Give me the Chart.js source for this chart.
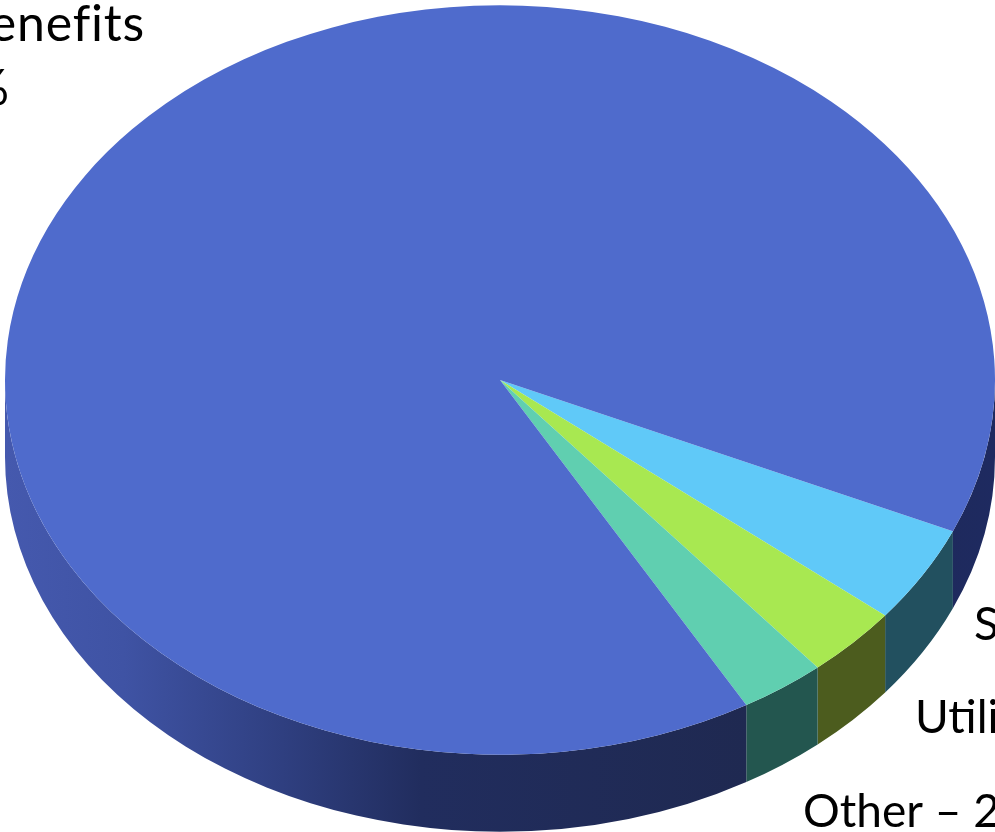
<!DOCTYPE html>
<html>
<head>
<meta charset="utf-8">
<style>
html,body{margin:0;padding:0;background:#fff;overflow:hidden;width:995px;height:832px}
canvas{display:block}
</style>
<script src="https://cdn.jsdelivr.net/npm/chart.js@4"></script>
</head>
<body>
<canvas id="c" width="995" height="832"></canvas>
<script>
const categories = ["Supplies", "Utilities", "Other", "Benefits"];
const values = [4.2, 3.1, 2.8, 89.9];
const labelTexts = ["Benefits", "90%", "Supplies \u2013 4%", "Utilities \u2013 3%", "Other \u2013 2%"];

const topColors = ["#60c9f8", "#a8e851", "#60cfb0", "#4f6bcc"];
const wallColors = ["#22505f", "#4c5c1e", "#23564f", null];
const mainWallStops = [[0,"#4559ae"],[0.12,"#3f53a4"],[0.28,"#2f3f80"],[0.42,"#212d5e"],[0.75,"#1f2951"],[1,"#1e2a60"]];
const labelLayout = [
  {x:145, y:41, align:"right", size:50, spacing:"0.8px"},
  {x:9, y:105, align:"right", size:50, spacing:"0px"},
  {x:974, y:640, align:"left", size:46, spacing:"0px"},
  {x:915, y:733, align:"left", size:46, spacing:"0px"},
  {x:803, y:827, align:"left", size:46, spacing:"0px"}
];
const CX = 500, CY = 380, SQUASH = 0.757, DEPTH = 77;

const tilt = {
  id: "tilt",
  beforeDatasetsDraw(chart) {
    const ctx = chart.ctx;
    const arcs = chart.getDatasetMeta(0).data;
    const a0 = arcs[0];
    ctx.save();
    ctx.translate(CX, CY);
    ctx.scale(1, SQUASH);
    ctx.translate(-a0.x, -a0.y);
    const d = DEPTH / SQUASH;
    arcs.forEach((el, i) => {
      const s = el.startAngle, e = el.endAngle;
      [[0, Math.PI], [2 * Math.PI, 3 * Math.PI]].forEach(([lo, hi]) => {
        const from = Math.max(s, lo), to = Math.min(e, hi);
        if (to <= from) return;
        let fill = wallColors[i];
        if (!fill) {
          fill = ctx.createLinearGradient(el.x - el.outerRadius, 0, el.x + el.outerRadius, 0);
          mainWallStops.forEach(st => fill.addColorStop(st[0], st[1]));
        }
        ctx.beginPath();
        ctx.arc(el.x, el.y, el.outerRadius, from, to);
        ctx.arc(el.x, el.y + d, el.outerRadius, to, from, true);
        ctx.closePath();
        ctx.fillStyle = fill;
        ctx.fill();
      });
    });
  },
  afterDatasetsDraw(chart) {
    chart.ctx.restore();
  },
  afterDraw(chart) {
    const ctx = chart.ctx;
    ctx.save();
    ctx.fillStyle = "#000";
    ctx.textBaseline = "alphabetic";
    labelTexts.forEach((t, i) => {
      const l = labelLayout[i];
      ctx.font = l.size + "px Lato";
      ctx.letterSpacing = l.spacing;
      ctx.textAlign = l.align;
      ctx.fillText(t, l.x, l.y);
    });
    ctx.restore();
  }
};

new Chart(document.getElementById("c"), {
  type: "pie",
  data: {
    labels: categories,
    datasets: [{
      data: values,
      backgroundColor: topColors,
      borderWidth: 0,
      clip: false,
      radius: 495,
      rotation: 113.8
    }]
  },
  options: {
    responsive: false,
    animation: false,
    layout: { padding: 0 },
    plugins: { legend: { display: false }, tooltip: { enabled: false }, title: { display: false } }
  },
  plugins: [tilt]
});
</script>
</body>
</html>
